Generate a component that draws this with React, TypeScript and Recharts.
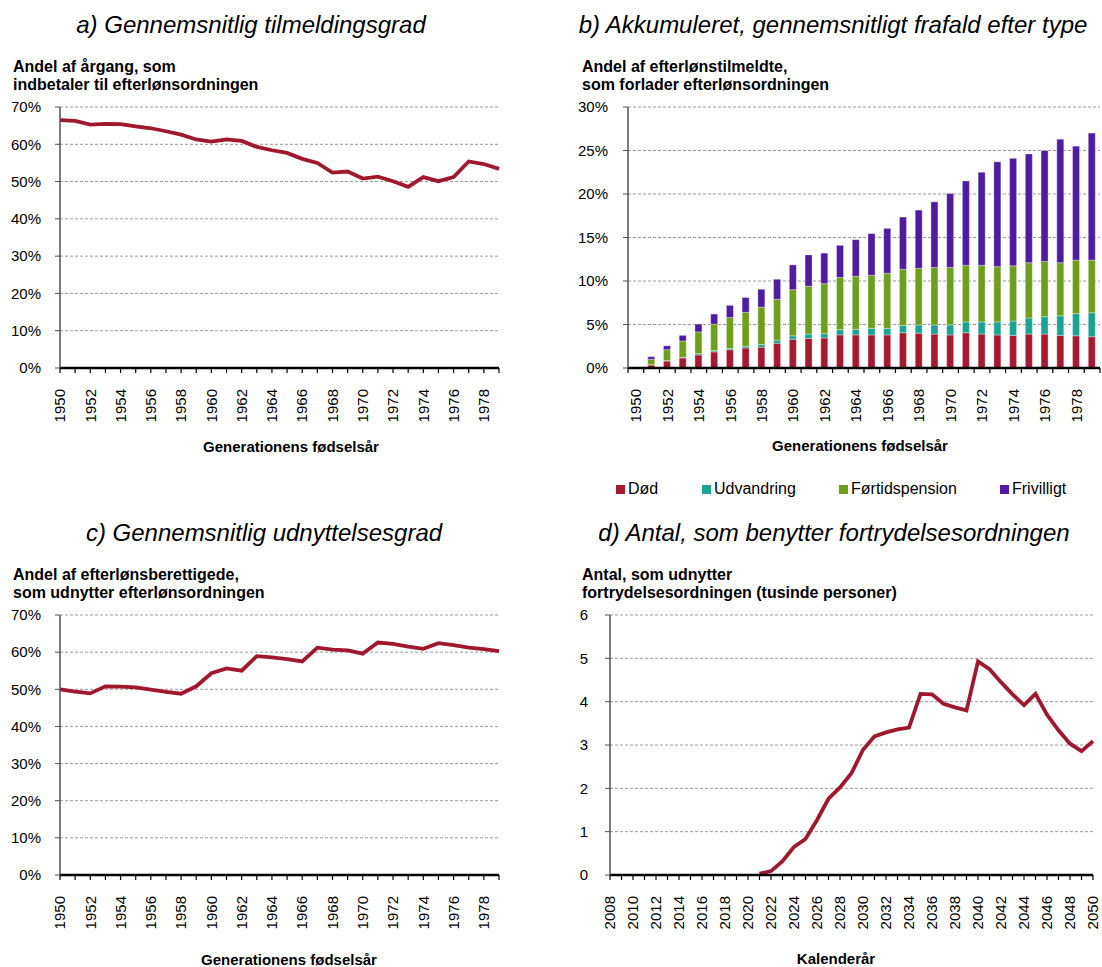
import React from 'react';
import { LineChart, Line, BarChart, Bar, XAxis, YAxis, CartesianGrid } from 'recharts';

const FONT = "'Liberation Sans', Arial, Helvetica, sans-serif";
const LINE_RED = '#A0182D';

// birth cohorts used in panels a, b and c
const years = [
  '1950', '1951', '1952', '1953', '1954', '1955', '1956', '1957', '1958', '1959',
  '1960', '1961', '1962', '1963', '1964', '1965', '1966', '1967', '1968', '1969',
  '1970', '1971', '1972', '1973', '1974', '1975', '1976', '1977', '1978', '1979',
];

// a) share of cohort paying into efterløn (%)
const tilmelding = [
  66.5, 66.3, 65.3, 65.5, 65.4, 64.8, 64.3, 63.5, 62.6, 61.3,
  60.7, 61.3, 60.9, 59.3, 58.4, 57.7, 56.1, 55.0, 52.4, 52.7,
  50.8, 51.3, 50.1, 48.6, 51.2, 50.1, 51.2, 55.4, 54.7, 53.4,
];

// b) accumulated drop-out by type (%)
const doed = [
  0, 0.35, 0.8, 1.15, 1.5, 1.85, 2.1, 2.3, 2.4, 2.85,
  3.3, 3.4, 3.45, 3.8, 3.8, 3.8, 3.8, 4.05, 4.0, 3.9,
  3.8, 4.05, 3.9, 3.8, 3.75, 3.9, 3.9, 3.75, 3.7, 3.6,
];
const udvandring = [
  0, 0.03, 0.05, 0.08, 0.15, 0.15, 0.15, 0.2, 0.3, 0.35,
  0.4, 0.5, 0.5, 0.6, 0.65, 0.75, 0.75, 0.85, 0.95, 1.05,
  1.15, 1.25, 1.4, 1.5, 1.65, 1.85, 2.0, 2.25, 2.55, 2.75,
];
const foertid = [
  0, 0.62, 1.25, 1.87, 2.5, 3.05, 3.55, 3.9, 4.3, 4.7,
  5.3, 5.5, 5.75, 6.0, 6.1, 6.1, 6.35, 6.45, 6.5, 6.6,
  6.6, 6.5, 6.5, 6.35, 6.35, 6.35, 6.35, 6.1, 6.15, 6.05,
];
const frivilligt = [
  0, 0.3, 0.45, 0.65, 0.9, 1.15, 1.4, 1.7, 2.05, 2.3,
  2.85, 3.6, 3.5, 3.7, 4.2, 4.8, 5.15, 6.0, 6.7, 7.55,
  8.5, 9.7, 10.7, 12.05, 12.35, 12.5, 12.75, 14.2, 13.1, 14.6,
];

// c) share of entitled who use efterløn (%)
const udnyttelse = [
  50.0, 49.4, 48.9, 50.8, 50.7, 50.5, 49.9, 49.3, 48.8, 50.8,
  54.3, 55.6, 55.0, 58.9, 58.6, 58.1, 57.5, 61.2, 60.7, 60.5,
  59.6, 62.6, 62.2, 61.5, 60.9, 62.4, 61.9, 61.2, 60.8, 60.3,
];

// d) calendar years and number using fortrydelsesordningen (thousands)
const calYears = [
  '2008', '2009', '2010', '2011', '2012', '2013', '2014', '2015', '2016', '2017',
  '2018', '2019', '2020', '2021', '2022', '2023', '2024', '2025', '2026', '2027',
  '2028', '2029', '2030', '2031', '2032', '2033', '2034', '2035', '2036', '2037',
  '2038', '2039', '2040', '2041', '2042', '2043', '2044', '2045', '2046', '2047',
  '2048', '2049', '2050',
];
const fortrydelse = [
  null, null, null, null, null, null, null, null, null, null,
  null, null, null, 0.03, 0.09, 0.32, 0.65, 0.83, 1.27, 1.76,
  2.02, 2.35, 2.89, 3.2, 3.29, 3.36, 3.4, 4.18, 4.17, 3.95,
  3.87, 3.8, 4.93, 4.75, 4.45, 4.17, 3.92, 4.18, 3.7, 3.34,
  3.03, 2.86, 3.09,
];

const pctTicks70 = [0, 10, 20, 30, 40, 50, 60, 70];
const pctTicks30 = [0, 5, 10, 15, 20, 25, 30];
const countTicks = [0, 1, 2, 3, 4, 5, 6];

const dataA = years.map((y, i) => ({ year: y, v: tilmelding[i] }));
const dataB = years.map((y, i) => ({
  year: y, doed: doed[i], udv: udvandring[i], foer: foertid[i], friv: frivilligt[i],
}));
const dataC = years.map((y, i) => ({ year: y, v: udnyttelse[i] }));
const dataD = calYears.map((y, i) => ({ year: y, v: fortrydelse[i] }));

const legendItems = [
  { label: 'Død', color: '#A6192E', x: 616 },
  { label: 'Udvandring', color: '#18A393', x: 702 },
  { label: 'Førtidspension', color: '#6E9E1C', x: 839 },
  { label: 'Frivilligt', color: '#4F1BA0', x: 1000 },
];

const tickFont = { fontSize: 15, fill: '#000', fontFamily: FONT };

const RotTick = (props: any) => {
  const { x, y, payload } = props;
  if (Number(payload.value) % 2 !== 0) return <g />;
  return (
    <text x={x} y={y} dy="0.35em" transform={`rotate(-90 ${x} ${y})`} textAnchor="end" {...tickFont}>
      {payload.value}
    </text>
  );
};

// bar chart: tick marks sit between the bars
const B_LEFT = 628;
const B_RIGHT = 1100;
const bandW = (B_RIGHT - B_LEFT) / years.length;

const BarTick = (props: any) => {
  const { x, y, payload, index } = props;
  const axisY = y - 21;
  const last = index === years.length - 1;
  return (
    <g>
      <line x1={x - bandW / 2} x2={x - bandW / 2} y1={axisY} y2={axisY + 5} stroke="#000" strokeWidth={1.2} />
      {last && <line x1={x + bandW / 2} x2={x + bandW / 2} y1={axisY} y2={axisY + 5} stroke="#000" strokeWidth={1.2} />}
      {Number(payload.value) % 2 === 0 && (
        <text x={x} y={y} dy="0.35em" transform={`rotate(-90 ${x} ${y})`} textAnchor="end" {...tickFont}>
          {payload.value}
        </text>
      )}
    </g>
  );
};

const Title = ({ text, cx, top }: { text: string; cx: number; top: number }) => (
  <div style={{ position: 'absolute', left: cx - 300, width: 600, top, textAlign: 'center', fontSize: 24, fontStyle: 'italic', lineHeight: '28px' }}>
    {text}
  </div>
);

const YTitle = ({ lines, left, top }: { lines: string[]; left: number; top: number }) => (
  <div style={{ position: 'absolute', left, top, fontSize: 16, fontWeight: 'bold', lineHeight: '18px', whiteSpace: 'nowrap' }}>
    {lines.map((l) => <div key={l}>{l}</div>)}
  </div>
);

const XTitle = ({ text, cx, cy }: { text: string; cx: number; cy: number }) => (
  <div style={{ position: 'absolute', left: cx - 200, width: 400, top: cy - 8, textAlign: 'center', fontSize: 15, fontWeight: 'bold', lineHeight: '16px' }}>
    {text}
  </div>
);

const gridProps = { vertical: false, stroke: '#9a9a9a', strokeDasharray: '3 2' };
const xAxisLine = { stroke: '#000', strokeWidth: 2.5 };
const yAxisLine = { stroke: '#505050', strokeWidth: 1.5 };

export default function App() {
  return (
    <div style={{ position: 'absolute', left: 0, top: 0, width: 1102, height: 967, background: '#fff', fontFamily: FONT, color: '#000', overflow: 'hidden' }}>
      <Title text="a) Gennemsnitlig tilmeldingsgrad" cx={251} top={11} />
      <Title text="b) Akkumuleret, gennemsnitligt frafald efter type" cx={833} top={11} />
      <Title text="c) Gennemsnitlig udnyttelsesgrad" cx={264} top={519} />
      <Title text="d) Antal, som benytter fortrydelsesordningen" cx={834} top={519} />

      <YTitle lines={['Andel af årgang, som', 'indbetaler til efterlønsordningen']} left={13} top={58} />
      <YTitle lines={['Andel af efterlønstilmeldte,', 'som forlader efterlønsordningen']} left={582} top={58} />
      <YTitle lines={['Andel af efterlønsberettigede,', 'som udnytter efterlønsordningen']} left={13} top={566} />
      <YTitle lines={['Antal, som udnytter', 'fortrydelsesordningen (tusinde personer)']} left={582} top={566} />

      <div style={{ position: 'absolute', left: 0, top: 0 }}>
        <LineChart width={520} height={470} data={dataA} margin={{ top: 107, right: 21, bottom: 42, left: 0 }}>
          <CartesianGrid {...gridProps} />
          <XAxis dataKey="year" interval={0} height={60} tick={<RotTick />} tickSize={5} tickMargin={16}
            axisLine={xAxisLine} tickLine={{ stroke: '#000', strokeWidth: 1.2 }} />
          <YAxis domain={[0, 70]} ticks={pctTicks70} width={60} tickFormatter={(v) => `${v}%`} tick={tickFont}
            tickSize={5} tickMargin={14} axisLine={yAxisLine} tickLine={{ stroke: '#505050' }} />
          <Line dataKey="v" stroke={LINE_RED} strokeWidth={3.8} dot={false} type="linear" isAnimationActive={false} />
        </LineChart>
      </div>

      <div style={{ position: 'absolute', left: 551, top: 0 }}>
        <BarChart width={551} height={470} data={dataB} margin={{ top: 107, right: 2, bottom: 42, left: 0 }} barSize={7}>
          <CartesianGrid {...gridProps} />
          <XAxis dataKey="year" interval={0} height={60} tick={<BarTick />} tickSize={0} tickMargin={21}
            axisLine={xAxisLine} tickLine={false} />
          <YAxis domain={[0, 30]} ticks={pctTicks30} width={77} tickFormatter={(v) => `${v}%`} tick={tickFont}
            tickSize={5} tickMargin={15} axisLine={yAxisLine} tickLine={{ stroke: '#505050' }} />
          <Bar dataKey="doed" stackId="s" fill="#A6192E" stroke="rgba(255,255,255,0.55)" strokeWidth={0.6} isAnimationActive={false} />
          <Bar dataKey="udv" stackId="s" fill="#18A393" stroke="rgba(255,255,255,0.55)" strokeWidth={0.6} isAnimationActive={false} />
          <Bar dataKey="foer" stackId="s" fill="#6E9E1C" stroke="rgba(255,255,255,0.55)" strokeWidth={0.6} isAnimationActive={false} />
          <Bar dataKey="friv" stackId="s" fill="#4F1BA0" stroke="rgba(255,255,255,0.55)" strokeWidth={0.6} isAnimationActive={false} />
        </BarChart>
      </div>

      <div style={{ position: 'absolute', left: 0, top: 508 }}>
        <LineChart width={520} height={470} data={dataC} margin={{ top: 107, right: 21, bottom: 43, left: 0 }}>
          <CartesianGrid {...gridProps} />
          <XAxis dataKey="year" interval={0} height={60} tick={<RotTick />} tickSize={5} tickMargin={16}
            axisLine={xAxisLine} tickLine={{ stroke: '#000', strokeWidth: 1.2 }} />
          <YAxis domain={[0, 70]} ticks={pctTicks70} width={60} tickFormatter={(v) => `${v}%`} tick={tickFont}
            tickSize={5} tickMargin={14} axisLine={yAxisLine} tickLine={{ stroke: '#505050' }} />
          <Line dataKey="v" stroke={LINE_RED} strokeWidth={3.8} dot={false} type="linear" isAnimationActive={false} />
        </LineChart>
      </div>

      <div style={{ position: 'absolute', left: 551, top: 508 }}>
        <LineChart width={551} height={470} data={dataD} margin={{ top: 107, right: 9, bottom: 43, left: 0 }}>
          <CartesianGrid {...gridProps} />
          <XAxis dataKey="year" interval={0} height={60} tick={<RotTick />} tickSize={5} tickMargin={16}
            axisLine={xAxisLine} tickLine={{ stroke: '#000', strokeWidth: 1.2 }} />
          <YAxis domain={[0, 6]} ticks={countTicks} width={59} tick={tickFont}
            tickSize={5} tickMargin={17} axisLine={yAxisLine} tickLine={{ stroke: '#505050' }} />
          <Line dataKey="v" stroke={LINE_RED} strokeWidth={3.8} dot={false} type="linear" isAnimationActive={false} />
        </LineChart>
      </div>

      <XTitle text="Generationens fødselsår" cx={291} cy={447} />
      <XTitle text="Generationens fødselsår" cx={860} cy={446} />
      <XTitle text="Generationens fødselsår" cx={289} cy={960} />
      <XTitle text="Kalenderår" cx={836} cy={959} />

      {legendItems.map((it) => (
        <div key={it.label} style={{ position: 'absolute', left: it.x, top: 479, height: 20, display: 'flex', alignItems: 'center', fontSize: 16 }}>
          <span style={{ display: 'inline-block', width: 9, height: 9, background: it.color, marginRight: 3 }} />
          <span>{it.label}</span>
        </div>
      ))}
    </div>
  );
}
